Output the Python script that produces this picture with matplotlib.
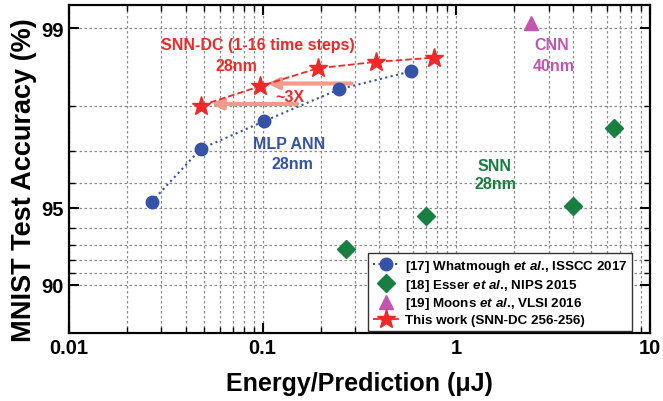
import numpy as np
import matplotlib
matplotlib.use('Agg')
import matplotlib.pyplot as plt
from matplotlib.ticker import FixedLocator, FuncFormatter, LogLocator, NullFormatter

plt.rcParams['font.family'] = ['Liberation Sans', 'DejaVu Sans']
plt.rcParams['font.weight'] = 'bold'
plt.rcParams['axes.labelweight'] = 'bold'
plt.rcParams['mathtext.fontset'] = 'custom'
plt.rcParams['mathtext.it'] = 'Liberation Sans:italic:bold'
plt.rcParams['mathtext.rm'] = 'Liberation Sans:bold'

# data (energy in uJ, accuracy in %)
mlp_energy = [0.0267, 0.048, 0.102, 0.247, 0.584]
mlp_acc = [95.25, 97.05, 97.7, 98.27, 98.53]

snn_dc_energy = [0.048, 0.097, 0.193, 0.386, 0.771]
snn_dc_acc = [98.0, 98.32, 98.57, 98.65, 98.70]

esser_energy = [0.27, 0.70, 4.0, 6.5]
esser_acc = [92.75, 94.6, 95.05, 97.55]

moons_energy = [2.45]
moons_acc = [99.05]

# ~3x improvement arrows: (tail energy, head energy, accuracy)
arrow_tail = [0.288, 0.151]
arrow_head = [0.106, 0.0543]
arrow_acc = [98.36, 98.03]

labels = ['[17] Whatmough $\\mathit{et\\ al}$., ISSCC 2017',
          '[18] Esser $\\mathit{et\\ al}$., NIPS 2015',
          '[19] Moons $\\mathit{et\\ al}$., VLSI 2016',
          'This work (SNN-DC 256-256)']

blue = '#3452a6'
red = '#f02828'
green = '#178040'
purple = '#c255b0'
salmon = '#f5998a'


def fwd(y):
    y = np.asarray(y, dtype=float)
    return -np.log10(np.clip(100.0 - y, 1e-6, None))


def inv(z):
    z = np.asarray(z, dtype=float)
    return 100.0 - 10.0 ** (-z)


fig = plt.figure(figsize=(6.63, 4.02), dpi=100)
ax = fig.add_axes([0.104, 0.169, 0.876, 0.816])
ax.set_xscale('log')
ax.set_yscale('function', functions=(fwd, inv))

for t, h, a in zip(arrow_tail, arrow_head, arrow_acc):
    ax.annotate('', xy=(h, a), xytext=(t, a),
                arrowprops=dict(arrowstyle='-|>', color=salmon, lw=3,
                                mutation_scale=16, shrinkA=0, shrinkB=0),
                zorder=2)

l1, = ax.plot(mlp_energy, mlp_acc, ls=':', lw=1.5, color=blue, marker='o',
              ms=9, mec=blue, mfc=blue, zorder=3)
l2, = ax.plot(esser_energy, esser_acc, ls='none', color=green, marker='D',
              ms=9, zorder=3)
l3, = ax.plot(moons_energy, moons_acc, ls='none', color=purple, marker='^',
              ms=10, zorder=3)
l4, = ax.plot(snn_dc_energy, snn_dc_acc, ls='--', lw=1.3, color=red, marker='*',
              ms=14, zorder=4)

ax.text(0.0942, 98.84, 'SNN-DC (1-16 time steps)', color=red, fontsize=11.5,
        ha='center', va='center')
ax.text(0.0734, 98.61, '28nm', color=red, fontsize=11.5, ha='center', va='center')
ax.text(0.137, 97.18, 'MLP ANN', color=blue, fontsize=11.5, ha='center', va='center')
ax.text(0.142, 96.63, '28nm', color=blue, fontsize=11.5, ha='center', va='center')
ax.text(3.13, 98.84, 'CNN', color=purple, fontsize=11.5, ha='center', va='center')
ax.text(3.2, 98.61, '40nm', color=purple, fontsize=11.5, ha='center', va='center')
ax.text(1.57, 96.58, 'SNN', color=green, fontsize=11.5, ha='center', va='center')
ax.text(1.59, 95.96, '28nm', color=green, fontsize=11.5, ha='center', va='center')
ax.text(0.139, 98.15, '~3X', color=red, fontsize=11.5, ha='center', va='center')

ax.set_xlim(0.01, 10)
ax.set_ylim(84.55, 99.19)

ax.xaxis.set_major_locator(LogLocator(base=10, numticks=10))
ax.xaxis.set_minor_locator(LogLocator(base=10, subs=np.arange(2, 10), numticks=10))
ax.xaxis.set_major_formatter(FuncFormatter(lambda v, p: '%g' % v))
ax.xaxis.set_minor_formatter(NullFormatter())
ax.yaxis.set_major_locator(FixedLocator([90, 95, 99]))
ax.yaxis.set_minor_locator(FixedLocator([91, 92, 93, 94, 96, 97, 98]))
ax.yaxis.set_major_formatter(FuncFormatter(lambda v, p: '%g' % v))
ax.yaxis.set_minor_formatter(NullFormatter())

ax.grid(which='both', ls=(0, (2, 2)), color='#8a8a8a', lw=0.9)
ax.set_axisbelow(True)
ax.tick_params(which='both', direction='in', top=True, right=True, labelsize=14.5)
ax.tick_params(which='major', length=7, width=1.5)
ax.tick_params(which='minor', length=4, width=1)
for s in ax.spines.values():
    s.set_linewidth(1.6)

ax.set_xlabel('Energy/Prediction (μJ)', fontsize=18, labelpad=10)
ax.set_ylabel('MNIST Test Accuracy (%)', fontsize=19.5)
ax.yaxis.set_label_coords(-0.055, 0.468)

leg = ax.legend([l1, l2, l3, l4], labels, loc='lower right',
                bbox_to_anchor=(0.969, 0.006), borderaxespad=0, fontsize=9.6,
                fancybox=False, framealpha=1, edgecolor='#333333',
                handlelength=2.0, handletextpad=0.4, labelspacing=0.2,
                borderpad=0.35)
leg.get_frame().set_linewidth(1.0)

fig.savefig('out.png', dpi=100)
